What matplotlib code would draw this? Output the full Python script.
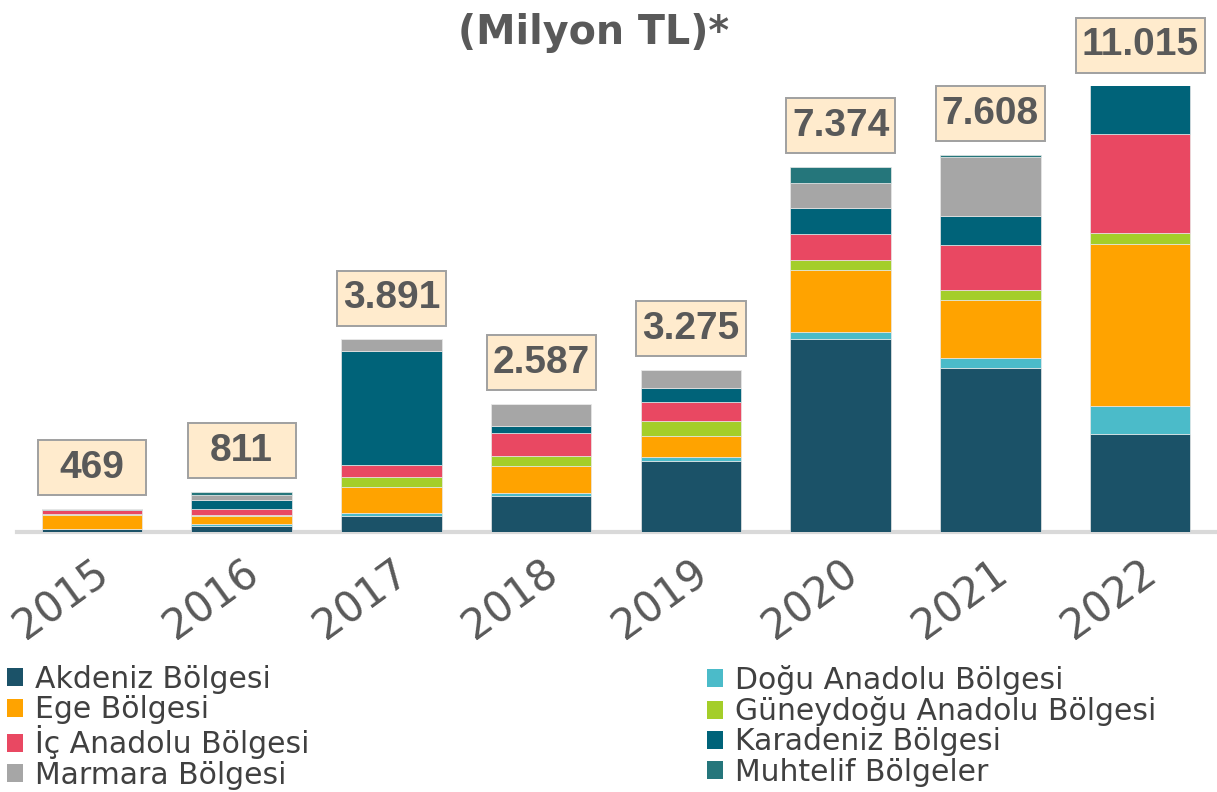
import matplotlib
matplotlib.use("Agg")
import matplotlib.pyplot as plt
from matplotlib.patches import Rectangle, Patch

# Yearly amounts by region (million TL)
years = ["2015", "2016", "2017", "2018", "2019", "2020", "2021", "2022"]
regions = [
    "Akdeniz Bölgesi", "Doğu Anadolu Bölgesi", "Ege Bölgesi",
    "Güneydoğu Anadolu Bölgesi", "İç Anadolu Bölgesi", "Karadeniz Bölgesi",
    "Marmara Bölgesi", "Muhtelif Bölgeler",
]
akdeniz = [55, 120, 317, 730, 1441, 3899, 3311, 1970]
dogu_anadolu = [12, 50, 67, 67, 81, 135, 196, 580]
ege = [280, 145, 526, 526, 411, 1248, 1167, 3252]
guneydogu = [8, 30, 202, 216, 310, 202, 202, 236]
ic_anadolu = [95, 120, 250, 459, 378, 526, 924, 1990]
karadeniz = [5, 186, 2293, 148, 283, 520, 580, 1800]
marmara = [10, 100, 236, 441, 371, 520, 1181, 1000]
muhtelif = [4, 60, 0, 0, 0, 324, 47, 187]

series = [akdeniz, dogu_anadolu, ege, guneydogu, ic_anadolu, karadeniz, marmara, muhtelif]
colors = ["#1B5268", "#4BBBC9", "#FFA300", "#A4CE29",
          "#E94862", "#006379", "#A6A6A6", "#25767B"]

Y_MAX = 9000
TEXT_GRAY = "#595959"

fig = plt.figure(figsize=(12.17, 7.92), dpi=100)
ax = fig.add_axes([17 / 1217, 1 - 532 / 792, 1198 / 1217, 446 / 792])

x = list(range(len(years)))
bottoms = [0] * len(years)
for vals, col in zip(series, colors):
    ax.bar(x, vals, bottom=bottoms, width=0.67, color=col,
           edgecolor="#E8E8E8", linewidth=0.5, zorder=2)
    bottoms = [b + v for b, v in zip(bottoms, vals)]

ax.set_xlim(-0.5, 7.5)
ax.set_ylim(0, Y_MAX)
for s in ax.spines.values():
    s.set_visible(False)
ax.set_yticks([])
ax.axhline(0, color="#D9D9D9", linewidth=3, zorder=1, clip_on=False)

ax.set_xticks(x)
ax.set_xticklabels(years, rotation=36, ha="right", rotation_mode="anchor",
                   fontsize=30, color=TEXT_GRAY, family="DejaVu Sans")
ax.tick_params(axis="x", length=0, pad=14)

# Total labels in cream boxes above each bar
fig.canvas.draw()
renderer = fig.canvas.get_renderer()
px_per_x = ax.transData.transform((1, 0))[0] - ax.transData.transform((0, 0))[0]
px_per_y = ax.transData.transform((0, 1))[1] - ax.transData.transform((0, 0))[1]
for xi, total in zip(x, bottoms):
    label = f"{total:,}".replace(",", ".")
    top = min(total, Y_MAX)
    yc = top + 41 / px_per_y
    t = ax.text(xi, yc, label, ha="center", va="center", fontsize=28,
                fontweight="bold", color=TEXT_GRAY, family="Liberation Sans",
                zorder=5, clip_on=False)
    w_px = t.get_window_extent(renderer).width
    box_w = max(108, w_px + 12) / px_per_x
    box_h = 55 / px_per_y
    ax.add_patch(Rectangle((xi - box_w / 2, yc - box_h / 2), box_w, box_h,
                           facecolor="#FFEBCD", edgecolor="#A0A0A0",
                           linewidth=1.4, zorder=4, clip_on=False))

fig.text(594 / 1217, 1 - 33 / 792, "(Milyon TL)*", ha="center", va="center",
         fontsize=28.5, fontweight="bold", color=TEXT_GRAY, family="DejaVu Sans")

# Legend in two columns, row-wise order
handles = [Patch(facecolor=c, edgecolor="none") for c in colors]
left_idx = [0, 2, 4, 6]
right_idx = [1, 3, 5, 7]
common = dict(frameon=False, handlelength=0.55, handleheight=0.55,
              handletextpad=0.38, labelspacing=0.04, borderaxespad=0,
              borderpad=0, labelcolor="#404040",
              prop={"family": "DejaVu Sans", "size": 21.5})
fig.legend([handles[i] for i in left_idx], [regions[i] for i in left_idx],
           loc="upper left", bbox_to_anchor=(7 / 1217, 1 - 665 / 792), **common)
fig.legend([handles[i] for i in right_idx], [regions[i] for i in right_idx],
           loc="upper left", bbox_to_anchor=(707 / 1217, 1 - 665 / 792), **common)

fig.savefig("out.png", dpi=100)
